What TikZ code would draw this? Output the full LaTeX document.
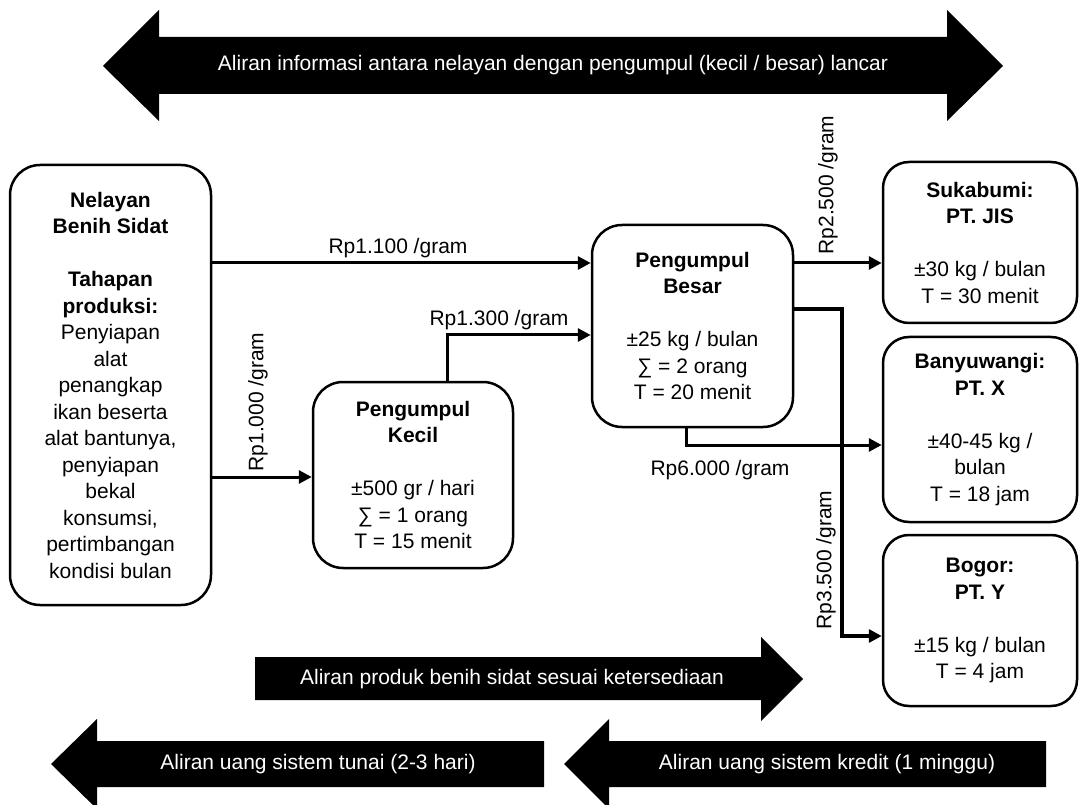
\documentclass[tikz,border=0pt]{standalone}
\usepackage{fontspec}
\setmainfont{Liberation Sans}
\usetikzlibrary{arrows.meta}
\begin{document}
\begin{tikzpicture}[x=1pt,y=-1pt,
  every node/.style={font=\fontsize{21}{26.5}\selectfont, inner sep=0pt},
  box/.style={draw, line width=2.5pt, rounded corners=30pt, align=center},
  rbox/.style={box, rounded corners=26pt, minimum width=194pt},
  conn/.style={line width=3pt, -{Triangle[length=13pt,width=13pt]}},
  thickconn/.style={line width=4.5pt, -{Triangle[length=13pt,width=13pt]}},
  lbl/.style={},
  rlbl/.style={rotate=90},
  bigarrow/.style={fill=black},
  arrowtext/.style={text=white}
]
\useasboundingbox (0,0) rectangle (1080,805);

% boxes
\node[box, minimum width=201pt, minimum height=440pt] (nel) at (110.5,385)
  {\textbf{Nelayan}\\\textbf{Benih Sidat}\\[26.5pt]\textbf{Tahapan}\\\textbf{produksi:}\\Penyiapan\\alat\\penangkap\\ikan beserta\\alat bantunya,\\penyiapan\\bekal\\konsumsi,\\pertimbangan\\kondisi bulan};
\node[box, minimum width=200pt, minimum height=186pt] (kecil) at (413,475)
  {\textbf{Pengumpul}\\\textbf{Kecil}\\[26.5pt]±500 gr / hari\\∑ = 1 orang\\T = 15 menit};
\node[box, minimum width=201pt, minimum height=202pt] (besar) at (692.5,326)
  {\textbf{Pengumpul}\\\textbf{Besar}\\[26.5pt]±25 kg / bulan\\∑ = 2 orang\\T = 20 menit};
\node[rbox, minimum height=161pt] (suka) at (980,242.5)
  {\textbf{Sukabumi:}\\\textbf{PT. JIS}\\[26.5pt]±30 kg / bulan\\T = 30 menit};
\node[rbox, minimum height=185pt] (banyu) at (980,429.5)
  {\textbf{Banyuwangi:}\\\textbf{PT. X}\\[26.5pt]±40-45 kg /\\bulan\\T = 18 jam};
\node[rbox, minimum height=171pt] (bogor) at (980,620.5)
  {\textbf{Bogor:}\\\textbf{PT. Y}\\[26.5pt]±15 kg / bulan\\T = 4 jam};

% connectors
\draw[conn] (nel.east |- 0,263) -- (besar.west |- 0,263);
\node[lbl] (l1100) at (398,248) {Rp1.100 /gram};
\draw[conn] (nel.east |- 0,477) -- (kecil.west |- 0,477);
\node[rlbl] (l1000) at (258,402) {Rp1.000 /gram};
\draw[conn] (kecil.north -| 447,0) |- (besar.west |- 0,335);
\node[lbl] (l1300) at (499,320) {Rp1.300 /gram};
\draw[conn] (besar.east |- 0,263) -- (suka.west |- 0,263);
\node[rlbl] (l2500) at (828,185) {Rp2.500 /gram};
\draw[conn] (besar.south -| 686,0) |- (banyu.west |- 0,445);
\node[lbl] (l6000) at (720,470) {Rp6.000 /gram};
\coordinate (bend) at (842,309);
\draw[thickconn] (besar.east |- bend) -- (bend) |- (bogor.west |- 0,636);
\node[rlbl] (l3500) at (826,560) {Rp3.500 /gram};

% block arrows
\fill[bigarrow] (103,66) -- (159,10) -- (159,37) -- (947,37) -- (947,10) -- (1003,66)
  -- (947,121) -- (947,94) -- (159,94) -- (159,121) -- cycle;
\node[arrowtext] (info) at (553,65.5) {Aliran informasi antara nelayan dengan pengumpul (kecil / besar) lancar};

\fill[bigarrow] (255,657) -- (761,657) -- (761,637) -- (803,679) -- (761,721) -- (761,700) -- (255,700) -- cycle;
\node[arrowtext] (produk) at (512,679) {Aliran produk benih sidat sesuai ketersediaan};

\fill[bigarrow] (51,764) -- (97,719) -- (97,741) -- (544,741) -- (544,787) -- (97,787) -- (97,809) -- cycle;
\node[arrowtext] (tunai) at (318,764) {Aliran uang sistem tunai (2-3 hari)};

\fill[bigarrow] (564,764) -- (609,719) -- (609,741) -- (1046,741) -- (1046,787) -- (609,787) -- (609,809) -- cycle;
\node[arrowtext] (kredit) at (827,764) {Aliran uang sistem kredit (1 minggu)};
\end{tikzpicture}
\end{document}
